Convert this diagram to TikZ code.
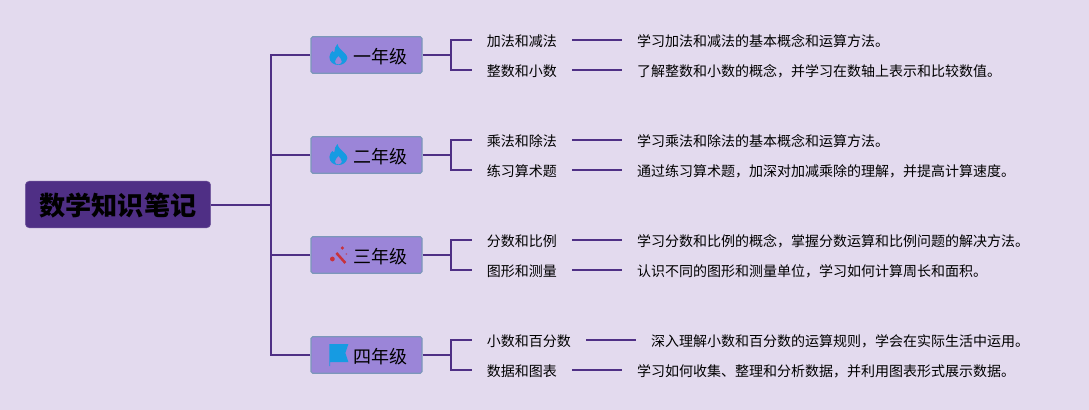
\documentclass[tikz,border=0pt]{standalone}
\usepackage{fontspec}
\setmainfont{Noto Sans CJK SC}
\usetikzlibrary{positioning, calc}

\definecolor{paper}{HTML}{E3DAEE}
\definecolor{rootfill}{HTML}{4F2F85}
\definecolor{gradefill}{HTML}{9B85D8}
\definecolor{gradeedge}{HTML}{7C97BA}
\definecolor{iconblue}{HTML}{169BE2}
\definecolor{iconred}{HTML}{C8323C}

\begin{document}
\begin{tikzpicture}[
        x=0.75pt, y=-0.75pt,
        root/.style={
            fill=rootfill,
            draw=rootfill!80!white,
            line width=0.4pt,
            rounded corners=3pt,
            minimum width=139pt,
            minimum height=35pt,
            text height=19pt,
            text depth=2pt,
            font=\fontsize{19.6}{22}\selectfont\bfseries
        },
        grade/.style={
            fill=gradefill,
            draw=gradeedge,
            line width=0.9pt,
            rounded corners=1.2pt,
            minimum height=27.3pt,
            inner xsep=11.25pt,
            inner ysep=0pt,
            text width=60.75pt,
            text height=14pt,
            text depth=1.6pt,
            align=right,
            font=\fontsize{13.5}{15}\selectfont
        },
        topic/.style={
            inner xsep=11.25pt,
            inner ysep=0pt,
            minimum height=21pt,
            text height=11pt,
            text depth=1.5pt,
            font=\fontsize{10.5}{12}\selectfont
        },
        link/.style={draw=rootfill, line width=1.5pt},
        flame/.pic={
            \fill[iconblue, even odd rule]
                (-1,-11) .. controls (0,-7) and (3,-5) .. (5,-3)
                .. controls (8,0) and (9,1) .. (9,3)
                .. controls (8,8) and (4,10) .. (0,10)
                .. controls (-5,10) and (-9,7) .. (-9,2)
                .. controls (-9,-1) and (-7,-3) .. (-6,-4)
                .. controls (-6,-3) and (-5,-3) .. (-4,-3)
                .. controls (-4,-6) and (-3,-9) .. (-1,-11) -- cycle
                (0,1) .. controls (1,3) and (4,4) .. (3.5,7)
                .. controls (3,8.5) and (1,9.5) .. (0,9.5)
                .. controls (-2,9.5) and (-3.5,8.5) .. (-3.5,6.5)
                .. controls (-3.5,4) and (-1,3) .. (0,1) -- cycle;
        },
        wand/.pic={
            \draw[iconred, line width=1.9pt] (-2,-2) -- (7,8);
            \fill[iconred] (4,-7) circle (1.8);
            \fill[iconred] (-6,4) circle (2.4);
            \fill[iconred!60!gradefill] (8,-1) circle (1);
        },
        banner/.pic={
            \fill[iconblue] (-9,-11) -- (10,-11) -- (7,-2) -- (10,7) -- (-8.2,7)
                -- (-8.2,11) -- (-9,11) -- cycle;
        }
    ]

    % Page
    \path[use as bounding box, fill=paper] (0,0) rectangle (1089,410);

    % Root node
    \node[root] (note) at (118,204.5) {数学知识笔记};

    % Grade row
    \node[grade] (g1) at (366.5,55) {一年级};
    \node[grade, below=46.8pt of g1] (g2) {二年级};
    \node[grade, below=46.8pt of g2] (g3) {三年级};
    \node[grade, below=46.8pt of g3] (g4) {四年级};

    % Grade icons
    \pic at ($(g1.west)+(28,0)$) {flame};
    \pic at ($(g2.west)+(28,0)$) {flame};
    \pic at ($(g3.west)+(28,0)$) {wand};
    \pic at ($(g4.west)+(28,0)$) {banner};

    % Topics
    \node[topic, right=36.75pt of g1, yshift=11.25pt] (t11) {加法和减法};
    \node[topic, right=36.75pt of g1, yshift=-11.25pt] (t12) {整数和小数};
    \node[topic, right=36.75pt of g2, yshift=11.25pt] (t21) {乘法和除法};
    \node[topic, right=36.75pt of g2, yshift=-11.25pt] (t22) {练习算术题};
    \node[topic, right=36.75pt of g3, yshift=11.25pt] (t31) {分数和比例};
    \node[topic, right=36.75pt of g3, yshift=-11.25pt] (t32) {图形和测量};
    \node[topic, right=36.75pt of g4, yshift=11.25pt] (t41) {小数和百分数};
    \node[topic, right=36.75pt of g4, yshift=-11.25pt] (t42) {数据和图表};

    % Descriptions
    \node[topic, right=37.2pt of t11] (d11) {学习加法和减法的基本概念和运算方法。};
    \node[topic, right=37.2pt of t12] (d12) {了解整数和小数的概念，并学习在数轴上表示和比较数值。};
    \node[topic, right=37.2pt of t21] (d21) {学习乘法和除法的基本概念和运算方法。};
    \node[topic, right=37.2pt of t22] (d22) {通过练习算术题，加深对加减乘除的理解，并提高计算速度。};
    \node[topic, right=37.2pt of t31] (d31) {学习分数和比例的概念，掌握分数运算和比例问题的解决方法。};
    \node[topic, right=37.2pt of t32] (d32) {认识不同的图形和测量单位，学习如何计算周长和面积。};
    \node[topic, right=37.2pt of t41] (d41) {深入理解小数和百分数的运算规则，学会在实际生活中运用。};
    \node[topic, right=37.2pt of t42] (d42) {学习如何收集、整理和分析数据，并利用图表形式展示数据。};

    % Root -> grades
    \coordinate (trunk) at (271,205);
    \draw[link] (note.east) -- (note.east -| trunk);
    \draw[link] (g1.west) -| (trunk);
    \draw[link] (g4.west) -| (trunk);
    \draw[link] (g2.west) -- (g2.west -| trunk);
    \draw[link] (g3.west) -- (g3.west -| trunk);

    % Grades -> topics
    \coordinate (fork) at (451,205);
    \draw[link] (g1.east) -- (g1.east -| fork);
    \draw[link] (t11.west) -| (fork |- g1.east) |- (t12.west);
    \draw[link] (g2.east) -- (g2.east -| fork);
    \draw[link] (t21.west) -| (fork |- g2.east) |- (t22.west);
    \draw[link] (g3.east) -- (g3.east -| fork);
    \draw[link] (t31.west) -| (fork |- g3.east) |- (t32.west);
    \draw[link] (g4.east) -- (g4.east -| fork);
    \draw[link] (t41.west) -| (fork |- g4.east) |- (t42.west);

    % Topics -> descriptions
    \draw[link] (t11) -- (d11);
    \draw[link] (t12) -- (d12);
    \draw[link] (t21) -- (d21);
    \draw[link] (t22) -- (d22);
    \draw[link] (t31) -- (d31);
    \draw[link] (t32) -- (d32);
    \draw[link] (t41) -- (d41);
    \draw[link] (t42) -- (d42);

\end{tikzpicture}
\end{document}
